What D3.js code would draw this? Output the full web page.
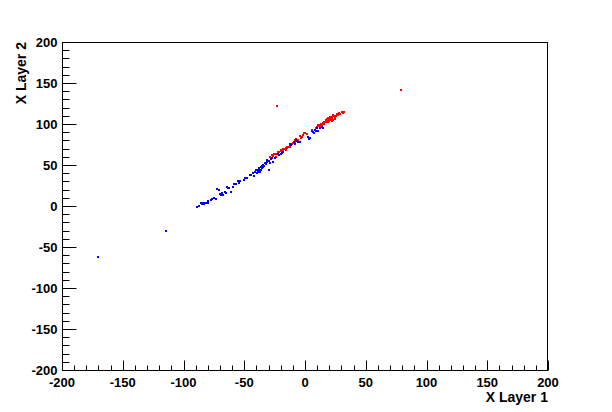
<!DOCTYPE html>
<html>
<head>
<meta charset="utf-8">
<script src="https://cdn.jsdelivr.net/npm/d3@7"></script>
<style>
  body { margin: 0; background: #fff; }
  text { font-family: "Liberation Sans", Arial, sans-serif; font-weight: bold; }
</style>
</head>
<body>
<svg id="chart"></svg>
<script>
// hits in layer 2 vs layer 1 (x, y)
const bluePoints = [
  [-170, -62], [-114, -30.5],
  [-88.6, -1], [-87, 0.5], [-86, 3.5], [-85, 2], [-84.5, 3.3], [-83.5, 2], [-83, 3.3],
  [-81.5, 3.3], [-80, 4], [-80, 5.5], [-77.6, 7.5], [-76.5, 8.5], [-75, 9.4], [-73.3, 8.2],
  [-72.2, 20.4], [-71, 19], [-70, 14.6], [-69, 13], [-68.6, 15.5], [-67.2, 13.4],
  [-66, 17], [-65.3, 16.2], [-64, 23.5], [-63, 22], [-62.3, 21.6], [-61.2, 17.4],
  [-59, 22.8], [-58.4, 26.8], [-57, 27], [-55, 31], [-54, 28.4], [-53.5, 30], [-50, 32],
  [-49.4, 33.7], [-48, 34.5], [-45, 38], [-44.4, 37.8], [-43, 39.8], [-42, 36],
  [-41.2, 41.8], [-40, 44], [-39.8, 39.8], [-39, 41], [-38.4, 43.9], [-38, 46],
  [-37.5, 44.5], [-37, 42], [-36.5, 48], [-36, 44], [-35.5, 46], [-35, 48.5], [-34.8, 50],
  [-34.3, 48], [-33.5, 49], [-33, 52], [-32, 51], [-31.5, 54], [-31, 56], [-30, 55],
  [-29.6, 43.9], [-29, 53], [-28.2, 57], [-27.5, 58], [-26.6, 54], [-25, 59], [-22, 64],
  [-21, 62.5], [-20, 63], [-19, 64.5], [-18, 66], [-12.3, 76], [-11.8, 74.5], [-9, 78],
  [-8, 76], [-7, 80.5], [-6.3, 79.6], [-5.5, 78.5], [-4.5, 77.5], [2.7, 83.8], [3, 82],
  [4, 83], [5.5, 91.5], [6.5, 90], [7, 89], [8.2, 92.7], [9, 91.5], [9.6, 94.7],
  [10.5, 92], [12, 95], [13.7, 96.7], [14.5, 95.5]
];
const redPoints = [
  [-23.3, 122], [79, 141.5],
  [-28.8, 60], [-27.4, 62], [-27, 59], [-26, 61], [-25.5, 63], [-24.7, 64], [-24, 60],
  [-23.5, 63], [-22.5, 65.5], [-21, 66], [-20, 68.5], [-19.5, 66.5], [-19.2, 68],
  [-18.5, 67], [-18, 70], [-17, 69.5], [-16, 71], [-15.5, 68.5], [-15, 72], [-14.5, 70.5],
  [-13.7, 72.5], [-12.5, 74], [-12, 72.5], [-11, 75.6], [-10, 77], [-9, 78], [-8.5, 77.5],
  [-8.2, 80.5], [-7, 82], [-6, 81], [-4, 85], [-3.5, 83.3], [-2.5, 84.5], [-2, 86],
  [-1.5, 87], [-0.8, 88.6], [0.2, 89.5], [1.5, 87.5], [5.5, 92.7], [9, 95.5], [10, 96],
  [11, 99], [11.3, 97.3], [12, 95], [12.3, 98.8], [13, 100], [13, 97.5], [14, 99],
  [15, 101.6], [15.8, 100.4], [16, 102.5], [16.5, 103], [17, 104.5], [17.5, 102],
  [17.8, 104], [18, 105.5], [18.5, 103], [19, 102], [19.2, 107], [19.5, 105.5], [20, 104],
  [20, 107], [20.6, 109], [21, 106], [21, 104.5], [21.5, 107.5], [22, 103.5], [22.5, 106.5],
  [22.5, 108], [23, 105], [23.3, 111], [24, 109.5], [24.5, 106], [25, 108.5], [25.5, 110],
  [26, 112], [27, 111], [28, 113.5], [29, 112.5], [30.2, 114.6], [31, 114], [32, 115]
];
const majorTicks = [-200, -150, -100, -50, 0, 50, 100, 150, 200];
const minorTicks = d3.range(-200, 201, 10);
const xTitle = "X Layer 1";
const yTitle = "X Layer 2";

const width = 612, height = 412;
const margin = { top: 42, right: 64, bottom: 42, left: 62 };
const svg = d3.select("#chart").attr("width", width).attr("height", height);

const x = d3.scaleLinear().domain([-200, 200])
  .range([margin.left, width - margin.right]);
const y = d3.scaleLinear().domain([-200, 200])
  .range([height - margin.bottom, margin.top]);

const fw = x.range()[1] - x.range()[0];
const fh = y.range()[0] - y.range()[1];

// frame
svg.append("rect")
  .attr("x", margin.left + 0.5).attr("y", margin.top + 0.5)
  .attr("width", fw - 1).attr("height", fh)
  .attr("fill", "none").attr("stroke", "#000");

// x axis: ticks pointing up into the frame
const xAxis = svg.append("g").attr("transform", `translate(0,${y(-200) + 0.5})`);
xAxis.selectAll("line").data(minorTicks).join("line")
  .attr("x1", (d) => Math.round(x(d)) + 0.5).attr("x2", (d) => Math.round(x(d)) + 0.5)
  .attr("y1", 0).attr("y2", (d) => (majorTicks.includes(d) ? -10 : -5))
  .attr("stroke", "#000");
xAxis.selectAll("text").data(majorTicks).join("text")
  .attr("x", (d) => x(d)).attr("y", 16)
  .attr("text-anchor", "middle").attr("font-size", 13)
  .text((d) => d);

// y axis: ticks pointing right into the frame
const yAxis = svg.append("g").attr("transform", `translate(${x(-200) + 0.5},0)`);
yAxis.selectAll("line").data(minorTicks).join("line")
  .attr("y1", (d) => Math.round(y(d)) + 0.5).attr("y2", (d) => Math.round(y(d)) + 0.5)
  .attr("x1", 0).attr("x2", (d) => (majorTicks.includes(d) ? 14 : 7))
  .attr("stroke", "#000");
yAxis.selectAll("text").data(majorTicks).join("text")
  .attr("x", -5).attr("y", (d) => y(d) + 4.5)
  .attr("text-anchor", "end").attr("font-size", 13)
  .text((d) => d);

// titles
svg.append("text")
  .attr("x", x(200)).attr("y", 402)
  .attr("text-anchor", "end").attr("font-size", 14)
  .text(xTitle);
svg.append("text")
  .attr("transform", `translate(26,${y(200)}) rotate(-90)`)
  .attr("text-anchor", "end").attr("font-size", 14)
  .text(yTitle);

// points
const plot = svg.append("g");
plot.selectAll("rect.red").data(redPoints).join("rect")
  .attr("class", "red")
  .attr("x", (d) => Math.round(x(d[0])) - 1).attr("y", (d) => Math.round(y(d[1])) - 1)
  .attr("width", 2).attr("height", 2).attr("fill", "#ff0000");
plot.selectAll("rect.blue").data(bluePoints).join("rect")
  .attr("class", "blue")
  .attr("x", (d) => Math.round(x(d[0])) - 1).attr("y", (d) => Math.round(y(d[1])) - 1)
  .attr("width", 2).attr("height", 2).attr("fill", "#0000ff");
</script>
</body>
</html>
